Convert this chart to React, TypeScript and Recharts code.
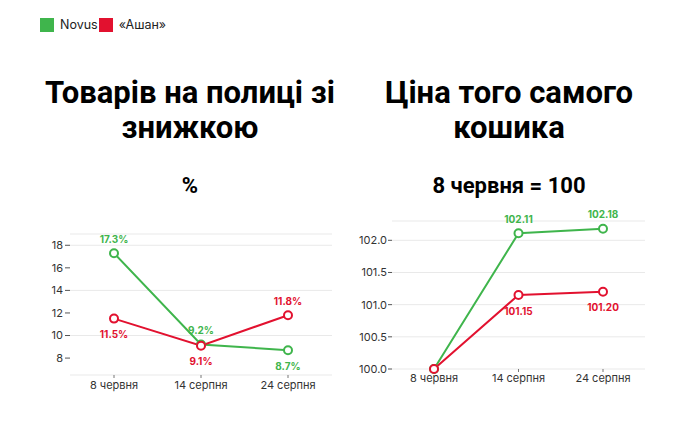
import React from "react";
import { CartesianGrid, LabelList, Line, LineChart, XAxis, YAxis } from "recharts";

const categories = ["8 червня", "14 серпня", "24 серпня"];
const novusDiscount = [17.3, 9.2, 8.7];
const auchanDiscount = [11.5, 9.1, 11.8];
const novusPrice = [100, 102.11, 102.18];
const auchanPrice = [100, 101.15, 101.2];
const discountTicks = [8, 10, 12, 14, 16, 18];
const priceTicks = [100, 100.5, 101, 101.5, 102];

const GREEN = "#3fb54c";
const RED = "#e2112f";
const FONT = "Inter, 'Noto Sans', sans-serif";
const TITLE_FONT = "Roboto, 'Noto Sans', sans-serif";

const discountData = categories.map((date, i) => ({
  date,
  novus: novusDiscount[i],
  auchan: auchanDiscount[i],
}));

const priceData = categories.map((date, i) => ({
  date,
  novus: novusPrice[i],
  auchan: auchanPrice[i],
}));

// label goes above the point when this series is the higher one, below otherwise
function makeLabel(own: number[], other: number[], color: string, fmt: (v: number) => string) {
  return (props: any) => {
    const { x, y, index } = props;
    const v = own[index];
    const o = other[index];
    if (v === o) return null;
    const dy = v > o ? -10.5 : 19.5;
    return (
      <text
        x={x}
        y={y + dy}
        textAnchor="middle"
        fill={color}
        fontSize={10}
        fontWeight={700}
        fontFamily={FONT}
      >
        {fmt(v)}
      </text>
    );
  };
}

const pct = (v: number) => `${v.toFixed(1)}%`;
const idx = (v: number) => v.toFixed(2);

const tickStyle = { fontSize: 11, fill: "#333", fontFamily: FONT };
const dot = { r: 4, fill: "#fff", strokeWidth: 2 };

function Title({ left, lines, sub }: { left: number; lines: string[]; sub: string }) {
  return (
    <>
      <div
        style={{
          position: "absolute",
          left,
          top: 75,
          width: 300,
          textAlign: "center",
          fontFamily: TITLE_FONT,
          fontWeight: 700,
          fontSize: 31,
          lineHeight: "35px",
          color: "#000",
        }}
      >
        {lines.map((l) => (
          <div key={l}>{l}</div>
        ))}
      </div>
      <div
        style={{
          position: "absolute",
          left,
          top: 173,
          width: 300,
          textAlign: "center",
          fontFamily: TITLE_FONT,
          fontWeight: 700,
          fontSize: 22,
          lineHeight: "26px",
          color: "#000",
        }}
      >
        {sub}
      </div>
    </>
  );
}

export default function App() {
  return (
    <div
      style={{
        position: "absolute",
        left: 0,
        top: 0,
        width: 680,
        height: 424,
        background: "#fff",
        fontFamily: FONT,
      }}
    >
      <div
        style={{
          position: "absolute",
          left: 40,
          top: 18,
          display: "flex",
          alignItems: "center",
          fontSize: 12.5,
          color: "#222",
          lineHeight: "14px",
        }}
      >
        <span style={{ width: 14, height: 14, background: GREEN, marginRight: 6 }} />
        <span>Novus</span>
        <span style={{ width: 14, height: 14, background: RED, marginLeft: 1, marginRight: 6 }} />
        <span>«Ашан»</span>
      </div>

      <Title left={40} lines={["Товарів на полиці зі", "знижкою"]} sub="%" />
      <Title left={359} lines={["Ціна того самого", "кошика"]} sub="8 червня = 100" />

      <div style={{ position: "absolute", left: 0, top: 220 }}>
        <LineChart width={340} height={180} data={discountData} margin={{ top: 14, right: 8, left: 0, bottom: 0 }}>
          <CartesianGrid vertical={false} stroke="#e9e9e9" />
          <XAxis
            dataKey="date"
            axisLine={false}
            tickLine={{ stroke: "#777" }}
            tickSize={3}
            tickMargin={3}
            height={25}
            padding={{ left: 44, right: 44 }}
            tick={tickStyle}
            interval={0}
          />
          <YAxis
            domain={[6.5, 19]}
            ticks={discountTicks}
            axisLine={false}
            tickLine={{ stroke: "#555" }}
            tickSize={5}
            tickMargin={2}
            width={70}
            tick={tickStyle}
          />
          <Line dataKey="novus" stroke={GREEN} strokeWidth={2} dot={{ ...dot, stroke: GREEN }} isAnimationActive={false}>
            <LabelList content={makeLabel(novusDiscount, auchanDiscount, GREEN, pct)} />
          </Line>
          <Line dataKey="auchan" stroke={RED} strokeWidth={2} dot={{ ...dot, stroke: RED }} isAnimationActive={false}>
            <LabelList content={makeLabel(auchanDiscount, novusDiscount, RED, pct)} />
          </Line>
        </LineChart>
      </div>

      <div style={{ position: "absolute", left: 340, top: 200 }}>
        <LineChart width={340} height={200} data={priceData} margin={{ top: 21, right: 35, left: 0, bottom: 0 }}>
          <CartesianGrid vertical={false} stroke="#e9e9e9" />
          <XAxis
            dataKey="date"
            axisLine={false}
            tickLine={{ stroke: "#777" }}
            tickSize={3}
            tickMargin={2}
            height={31}
            padding={{ left: 42, right: 42 }}
            tick={tickStyle}
            interval={0}
          />
          <YAxis
            domain={[100, 102.3]}
            ticks={priceTicks}
            tickFormatter={(v: number) => v.toFixed(1)}
            axisLine={false}
            tickLine={{ stroke: "#555" }}
            tickSize={4}
            tickMargin={1}
            width={52}
            tick={tickStyle}
          />
          <Line dataKey="novus" stroke={GREEN} strokeWidth={2} dot={{ ...dot, stroke: GREEN }} isAnimationActive={false}>
            <LabelList content={makeLabel(novusPrice, auchanPrice, GREEN, idx)} />
          </Line>
          <Line dataKey="auchan" stroke={RED} strokeWidth={2} dot={{ ...dot, stroke: RED }} isAnimationActive={false}>
            <LabelList content={makeLabel(auchanPrice, novusPrice, RED, idx)} />
          </Line>
        </LineChart>
      </div>
    </div>
  );
}
